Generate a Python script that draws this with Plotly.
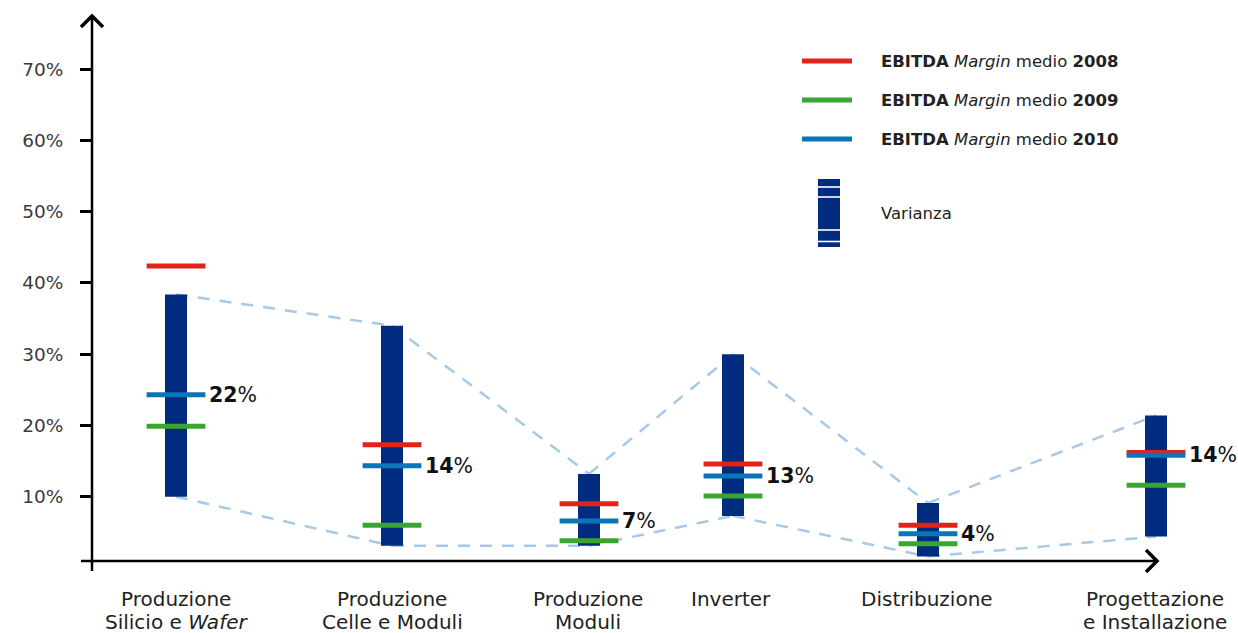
import plotly.graph_objects as go

# Value chain segments (two text lines each)
categorie_riga1 = ["Produzione", "Produzione", "Produzione", "Inverter",
                   "Distribuzione", "Progettazione"]
categorie_riga2 = ["Silicio e <i>Wafer</i>", "Celle e Moduli", "Moduli", "",
                   "", "e Installazione"]

# EBITDA margin range (varianza) per segment, %
varianza_min = [10.0, 3.1, 3.1, 7.3, 1.6, 4.4]
varianza_max = [38.4, 34.0, 13.2, 30.0, 9.1, 21.4]

# Average EBITDA margin per year, %
margin_2008 = [42.4, 17.3, 9.0, 14.6, 6.0, 16.2]
margin_2009 = [19.9, 6.0, 3.8, 10.1, 3.4, 11.6]
margin_2010 = [24.3, 14.35, 6.6, 12.9, 4.8, 15.8]

# Labelled average margin shown beside each bar
margine_medio = [22, 14, 7, 13, 4, 14]

tick_valori = [10, 20, 30, 40, 50, 60, 70]
tick_etichette = ["10%", "20%", "30%", "40%", "50%", "60%", "70%"]

# ---- layout constants -------------------------------------------------
W, H = 1238, 633
M_L, M_R, M_T, M_B = 92, 38, 15, 72
PLOT_W = W - M_L - M_R
PLOT_H = H - M_T - M_B
X_POS = [176, 392, 589, 733, 928, 1156]   # horizontal placement of segments
X_LABEL = [176, 392, 588, 731, 927, 1155]
PX_PER_PCT = 7.123
Y0 = (H - M_B - 567.9) * -1 / PX_PER_PCT  # value at the bottom edge
Y_RANGE = [Y0, Y0 + PLOT_H / PX_PER_PCT]

NAVY = "#002c7f"
RED = "#e3231a"
GREEN = "#3aa631"
BLUE = "#0a76b7"
DASH = "#a7c9e7"
FONT = "DejaVu Sans"


def px(xp):
    return (xp - M_L) / PLOT_W


def py(yp):
    return (H - M_B - yp) / PLOT_H


fig = go.Figure()

# Range bars
fig.add_trace(go.Bar(
    x=X_POS,
    y=[hi - lo for lo, hi in zip(varianza_min, varianza_max)],
    base=varianza_min,
    width=22,
    marker=dict(color=NAVY, line=dict(width=0)),
    showlegend=False,
    hoverinfo="skip",
))

# Yearly margin ticks
for serie, colore in [(margin_2008, RED), (margin_2009, GREEN), (margin_2010, BLUE)]:
    fig.add_trace(go.Scatter(
        x=X_POS, y=serie, mode="markers",
        marker=dict(symbol="line-ew-open", size=42, color=colore,
                    line=dict(color=colore, width=5)),
        showlegend=False, hoverinfo="skip",
    ))

shapes = []

# Dashed envelope joining bar tops and bottoms
for serie in (varianza_max, varianza_min):
    for i in range(len(serie) - 1):
        shapes.append(dict(
            type="line", xref="x", yref="y", layer="below",
            x0=X_POS[i], y0=serie[i], x1=X_POS[i + 1], y1=serie[i + 1],
            line=dict(color=DASH, width=2.5, dash="12px,10px"),
        ))

# Axes with arrowheads
axis_line = dict(color="black", width=2.5)
shapes += [
    dict(type="line", xref="paper", yref="paper",
         x0=px(92), y0=py(571), x1=px(92), y1=py(16), line=axis_line),
    dict(type="line", xref="paper", yref="paper",
         x0=px(81), y0=py(561), x1=px(1157), y1=py(561), line=axis_line),
    dict(type="path", xref="paper", yref="paper",
         path=f"M{px(81)},{py(27)} L{px(92)},{py(16)} L{px(103)},{py(27)}",
         line=dict(color="black", width=3.5)),
    dict(type="path", xref="paper", yref="paper",
         path=f"M{px(1146)},{py(550)} L{px(1157)},{py(561)} L{px(1146)},{py(572)}",
         line=dict(color="black", width=3.5)),
]

# Legend swatches
for yy, colore in [(61, RED), (100, GREEN), (139, BLUE)]:
    shapes.append(dict(type="line", xref="paper", yref="paper",
                       x0=px(802), x1=px(852), y0=py(yy), y1=py(yy),
                       line=dict(color=colore, width=5)))
shapes.append(dict(type="rect", xref="paper", yref="paper",
                   x0=px(818), x1=px(840), y0=py(247), y1=py(179),
                   fillcolor=NAVY, line=dict(width=0)))
for yy in (187, 197, 230, 241.5):
    shapes.append(dict(type="line", xref="paper", yref="paper",
                       x0=px(817), x1=px(841), y0=py(yy), y1=py(yy),
                       line=dict(color="white", width=1.6)))

annotations = []
for yy, anno in [(61, "2008"), (100, "2009"), (139, "2010")]:
    annotations.append(dict(
        xref="paper", yref="paper", x=px(879), y=py(yy),
        xanchor="left", yanchor="middle", showarrow=False,
        text=f"<b>EBITDA</b> <i>Margin</i> medio <b>{anno}</b>",
        font=dict(family=FONT, size=16.5, color="#222"),
    ))
annotations.append(dict(
    xref="paper", yref="paper", x=px(879), y=py(213),
    xanchor="left", yanchor="middle", showarrow=False,
    text="Varianza", font=dict(family=FONT, size=16.5, color="#222"),
))

# Value labels beside each bar
for xv, yv, val in zip(X_POS, margin_2010, margine_medio):
    annotations.append(dict(
        x=xv, y=yv, xref="x", yref="y", xanchor="left", yanchor="middle",
        xshift=31, showarrow=False,
        text=f"<b>{val}</b>%",
        font=dict(family=FONT, size=20.5, color="#111"),
    ))

# Segment names under the horizontal axis
for xv, r1, r2 in zip(X_LABEL, categorie_riga1, categorie_riga2):
    for testo, yy in ((r1, 598.5), (r2, 621.5)):
        if testo:
            annotations.append(dict(
                x=xv, xref="x", yref="paper", y=py(yy),
                xanchor="center", yanchor="middle", showarrow=False,
                text=testo,
                font=dict(family=FONT, size=20, color="#222"),
            ))

fig.update_layout(
    width=W, height=H,
    margin=dict(l=M_L, r=M_R, t=M_T, b=M_B, autoexpand=False),
    paper_bgcolor="white", plot_bgcolor="white",
    shapes=shapes, annotations=annotations,
    showlegend=False,
    xaxis=dict(
        range=[M_L, W - M_R], showgrid=False, zeroline=False, showline=False,
        showticklabels=False, ticks="",
    ),
    yaxis=dict(
        range=Y_RANGE, showgrid=False, zeroline=False, showline=False,
        tickmode="array", tickvals=tick_valori, ticktext=tick_etichette,
        ticks="outside", ticklen=11, tickwidth=2.5, tickcolor="black",
        ticklabelstandoff=13,
        tickfont=dict(family=FONT, size=18.5, color="#3a3a3a"),
    ),
)

fig.write_html("out.html")
